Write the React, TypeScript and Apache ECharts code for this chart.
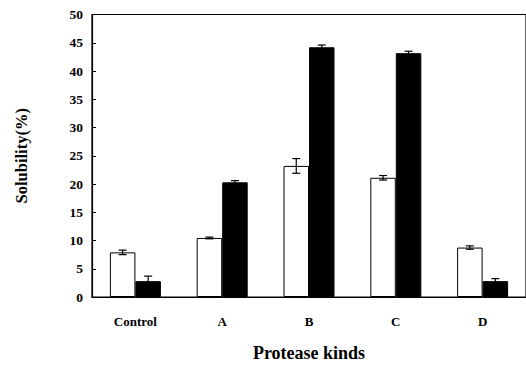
import React, { useEffect, useRef } from "react";
import * as echarts from "echarts";

const categories = ["Control", "A", "B", "C", "D"];
const whiteValues = [7.9, 10.45, 23.2, 21.1, 8.75];
const whiteErrors = [0.4, 0.15, 1.3, 0.4, 0.3];
const blackValues = [2.8, 20.3, 44.2, 43.15, 2.8];
const blackErrors = [0.9, 0.3, 0.4, 0.35, 0.45];
const yTicks = { min: 0, max: 50, interval: 5 };

const FONT = "'Liberation Serif', 'Times New Roman', serif";
const BAR_W = 25.5;

export default function App() {
  const ref = useRef<HTMLDivElement>(null);
  useEffect(() => {
    document.body.style.margin = "0";
    if (!ref.current) return;
    const chart = echarts.init(ref.current, undefined, { renderer: "svg" });
    const errData = (vals: number[], errs: number[]) =>
      vals.map((v, i) => [i, v, errs[i]]);
    const errRender = (side: number) => (params: any, api: any) => {
      const idx = api.value(0);
      const v = api.value(1);
      const e = api.value(2);
      const top = api.coord([idx, v + e]);
      const bot = api.coord([idx, v - e]);
      const x = top[0] + side * (BAR_W / 2);
      const cap = 4;
      const style = { stroke: "#000", lineWidth: 1.2 };
      return {
        type: "group",
        children: [
          { type: "line", shape: { x1: x, y1: top[1], x2: x, y2: bot[1] }, style },
          { type: "line", shape: { x1: x - cap, y1: top[1], x2: x + cap, y2: top[1] }, style },
          { type: "line", shape: { x1: x - cap, y1: bot[1], x2: x + cap, y2: bot[1] }, style },
        ],
      };
    };
    chart.setOption({
      animation: false,
      backgroundColor: "#fff",
      grid: {
        left: 92,
        right: -4,
        top: 14.5,
        bottom: 65.5,
        show: true,
        borderColor: "#000",
        borderWidth: 1.2,
        backgroundColor: "transparent",
      },
      xAxis: {
        type: "category",
        data: categories,
        name: "Protease kinds",
        nameLocation: "middle",
        nameGap: 47,
        nameTextStyle: { fontFamily: FONT, fontWeight: "bold", fontSize: 18, color: "#000" },
        axisLine: { lineStyle: { color: "#000", width: 1.2 } },
        axisTick: { inside: true, length: 5, lineStyle: { color: "#000" } },
        axisLabel: { fontFamily: FONT, fontWeight: "bold", fontSize: 13, color: "#000", margin: 18 },
      },
      yAxis: {
        type: "value",
        min: yTicks.min,
        max: yTicks.max,
        interval: yTicks.interval,
        name: "Solubility(%)",
        nameLocation: "middle",
        nameGap: 62,
        nameTextStyle: { fontFamily: FONT, fontWeight: "bold", fontSize: 16.5, color: "#000" },
        axisLine: { show: true, lineStyle: { color: "#000", width: 1.2 } },
        axisTick: { show: true, inside: true, length: 4, lineStyle: { color: "#000" } },
        axisLabel: { fontFamily: FONT, fontWeight: "bold", fontSize: 13.5, color: "#000", margin: 9 },
        splitLine: { show: false },
      },
      series: [
        {
          type: "bar",
          data: whiteValues,
          barWidth: BAR_W,
          barGap: "0%",
          itemStyle: { color: "#fff", borderColor: "#000", borderWidth: 1 },
        },
        {
          type: "bar",
          data: blackValues,
          barWidth: BAR_W,
          barGap: "0%",
          itemStyle: { color: "#000", borderColor: "#000", borderWidth: 1 },
        },
        {
          type: "custom",
          data: errData(whiteValues, whiteErrors),
          renderItem: errRender(-1),
          z: 5,
        },
        {
          type: "custom",
          data: errData(blackValues, blackErrors),
          renderItem: errRender(1),
          z: 5,
        },
      ],
    });
    return () => chart.dispose();
  }, []);
  return <div ref={ref} style={{ width: 526, height: 367 }} />;
}
